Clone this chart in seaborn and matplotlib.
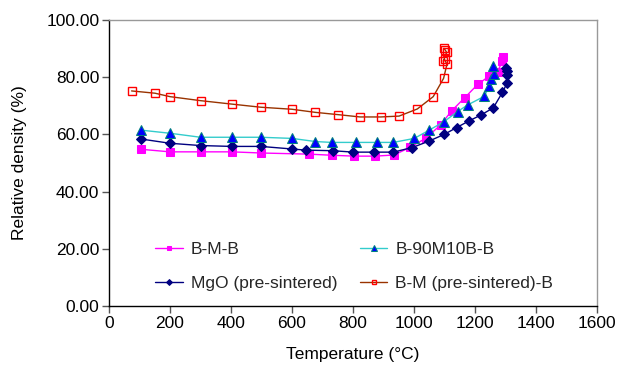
import matplotlib
matplotlib.use("Agg")
import matplotlib.pyplot as plt
import seaborn as sns
import pandas as pd

# ---- data ----
bmb_t = [104, 200, 300, 402, 498, 656, 732, 804, 872, 935, 987, 1038, 1087, 1123, 1167, 1209, 1247, 1274, 1290, 1293]
bmb_d = [54.8, 53.9, 53.9, 53.9, 53.5, 53.1, 52.7, 52.4, 52.4, 52.8, 55.5, 58.6, 63.3, 68.2, 72.9, 77.5, 80.4, 81.8, 85.8, 87.2]

b90_t = [104, 200, 300, 402, 498, 600, 677, 730, 810, 880, 932, 1001, 1050, 1099, 1143, 1176, 1230, 1247, 1252, 1262, 1260]
b90_d = [61.5, 60.4, 59.0, 59.0, 59.0, 58.6, 57.5, 57.2, 57.2, 57.2, 57.2, 58.6, 61.5, 64.5, 68.0, 70.3, 73.3, 76.8, 79.5, 81.0, 83.8]

mgo_t = [104, 200, 300, 402, 498, 600, 645, 733, 801, 870, 932, 994, 1048, 1099, 1140, 1180, 1220, 1260, 1290, 1305, 1304, 1304, 1301]
mgo_d = [58.4, 56.9, 56.1, 55.8, 55.8, 54.9, 54.5, 54.3, 53.8, 53.8, 53.8, 55.4, 57.6, 60.0, 62.4, 64.7, 66.8, 69.3, 74.7, 77.9, 80.8, 82.3, 83.3]

bmps_t = [74, 151, 200, 300, 402, 498, 599, 677, 752, 823, 891, 951, 1011, 1063, 1097, 1108, 1100, 1096, 1107, 1103, 1098]
bmps_d = [75.2, 74.4, 73.2, 71.8, 70.6, 69.5, 68.8, 67.7, 66.9, 66.1, 66.1, 66.4, 68.9, 73.2, 79.6, 84.5, 86.2, 85.6, 88.7, 89.4, 90.1]

labels = ["B-M-B", "B-90M10B-B", "MgO (pre-sintered)", "B-M (pre-sintered)-B"]
x_ticks = [0, 200, 400, 600, 800, 1000, 1200, 1400, 1600]
y_ticks = [0, 20, 40, 60, 80, 100]

sns.set_theme(style="white")
plt.rcParams["font.family"] = ["Liberation Sans", "DejaVu Sans"]

FS = 12.5
fig = plt.figure(figsize=(6.21, 3.71), dpi=100)
ax = fig.add_axes([109 / 621, 1 - 306 / 371, (597 - 109) / 621, (306 - 20) / 371])

series = [
    (bmb_t, bmb_d, labels[0], dict(color="#FF00FF", marker="s", markersize=5.5,
                                   markerfacecolor="#FF00FF", markeredgecolor="#FF00FF")),
    (mgo_t, mgo_d, labels[2], dict(color="#000080", marker="D", markersize=5,
                                   markerfacecolor="#000080", markeredgecolor="#000080")),
    (b90_t, b90_d, labels[1], dict(color="#33CCCC", marker="^", markersize=6.5,
                                   markerfacecolor="#0000FF", markeredgecolor="#008080")),
    (bmps_t, bmps_d, labels[3], dict(color="#993300", marker="s", markersize=5.5,
                                     markerfacecolor="none", markeredgecolor="#FF0000",
                                     markeredgewidth=1.0)),
]

for t, d, lab, style in series:
    df = pd.DataFrame({"T": t, "D": d})
    sns.lineplot(data=df, x="T", y="D", sort=False, estimator=None, ax=ax,
                 label=lab, linewidth=1.0, **style)

ax.set_xlim(0, 1600)
ax.set_ylim(0, 100)
ax.set_xticks(x_ticks)
ax.set_yticks(y_ticks)
ax.set_yticklabels([f"{v:.2f}" for v in y_ticks])
ax.set_xticklabels([str(v) for v in x_ticks])
ax.tick_params(axis="both", labelsize=FS, length=5, width=1, color="#555555",
               direction="out", bottom=True, left=True, pad=2, labelcolor="black")
ax.set_xlabel("Temperature (\u00b0C)", fontsize=FS, color="black", labelpad=12)
ax.set_ylabel("Relative density (%)", fontsize=FS, color="black", labelpad=14)

for side in ["left", "bottom"]:
    ax.spines[side].set_color("black")
    ax.spines[side].set_linewidth(1.0)
for side in ["top", "right"]:
    ax.spines[side].set_color("#999999")
    ax.spines[side].set_linewidth(1.0)

leg = ax.legend(loc="lower left", bbox_to_anchor=(0.080, 0.029), borderaxespad=0,
                ncol=2, frameon=False, fontsize=FS, handlelength=1.6,
                columnspacing=1.3, labelspacing=1.05, handletextpad=0.45,
                markerscale=0.6)

fig.savefig("out.png", dpi=100)
